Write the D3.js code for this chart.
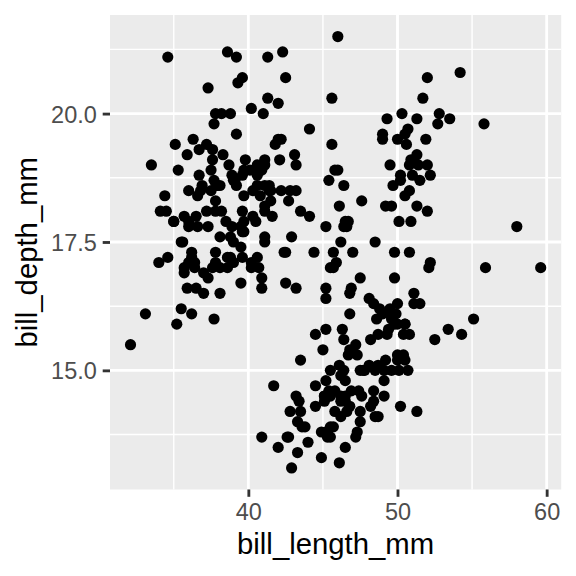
<!DOCTYPE html>
<html><head><meta charset="utf-8">
<script src="https://cdn.jsdelivr.net/npm/d3@7"></script>
<style>body{margin:0;background:#fff}svg{display:block}</style>
</head><body>
<script>
// bill_length_mm, bill_depth_mm pairs
const adelie = [
[39.1,18.7],[39.5,17.4],[40.3,18],[36.7,19.3],[39.3,20.6],[38.9,17.8],[39.2,19.6],[34.1,18.1],[42,20.2],[37.8,17.1],
[37.8,17.3],[41.1,17.6],[38.6,21.2],[34.6,21.1],[36.6,17.8],[38.7,19],[42.5,20.7],[34.4,18.4],[46,21.5],[37.8,18.3],
[37.7,18.7],[35.9,19.2],[38.2,18.1],[38.8,17.2],[35.3,18.9],[40.6,18.6],[40.5,17.9],[37.9,18.6],[40.5,18.9],[39.5,16.7],
[37.2,18.1],[39.5,17.8],[40.9,18.9],[36.4,17],[39.2,21.1],[38.8,20],[42.2,18.5],[37.6,19.3],[39.8,19.1],[36.5,18],
[40.8,18.4],[36,18.5],[44.1,19.7],[37,16.9],[39.6,18.8],[41.1,19],[37.5,18.9],[36,17.9],[42.3,21.2],[39.6,17.7],
[40.1,18.9],[35,17.9],[42,19.5],[34.5,18.1],[41.4,18.6],[39,17.5],[40.6,18.8],[36.5,16.6],[37.6,19.1],[35.7,16.9],
[41.3,21.1],[37.6,17],[41.1,18.2],[36.4,17.1],[41.6,18],[35.5,16.2],[41.1,19.1],[35.9,16.6],[41.8,19.4],[33.5,19],
[39.7,18.4],[39.6,17.2],[45.8,18.9],[35.5,17.5],[42.8,18.5],[40.9,16.8],[37.2,19.4],[36.2,16.1],[42.1,19.1],[34.6,17.2],
[42.9,17.6],[36.7,18.8],[35.1,19.4],[37.3,17.8],[41.3,20.3],[36.3,19.5],[36.9,18.6],[38.3,19.2],[38.9,18.8],[35.7,18],
[41.1,18.1],[34,17.1],[39.6,18.1],[36.2,17.3],[40.8,18.9],[38.1,18.6],[40.3,18.5],[33.1,16.1],[43.2,18.5],[35,17.9],
[41,20],[37.7,16],[37.8,20],[37.9,18.6],[39.7,18.9],[38.6,17.2],[38.2,20],[38.1,17],[43.2,19],[38.1,16.5],
[45.6,20.3],[39.7,17.7],[42.2,19.5],[39.6,20.7],[42.7,18.3],[38.6,17],[37.3,20.5],[35.7,17],[41.1,18.6],[36.2,17.2],
[37.7,19.8],[40.2,17],[41.4,18.5],[35.2,15.9],[40.6,19],[38.8,17.6],[41.5,18.3],[39,17.1],[44.1,18],[38.5,17.9],
[43.1,19.2],[36.8,18.5],[37.5,18.5],[38.1,17.6],[41.1,17.5],[35.6,17.5],[40.2,20.1],[37,16.5],[39.7,17.9],[40.2,17.1],
[40.6,17.2],[32.1,15.5],[40.7,17],[37.3,16.8],[39,18.7],[39.2,18.6],[36.6,18.4],[36,17.8],[37.8,18.1],[36,17.1],
[41.5,18.5]
];
const gentoo = [
[46.1,13.2],[50,16.3],[48.7,14.1],[50,15.2],[47.6,14.5],[46.5,13.5],[45.4,14.6],[46.7,15.3],[43.3,13.4],[46.8,15.4],
[40.9,13.7],[49,16.1],[45.5,13.7],[48.4,14.6],[45.8,14.6],[49.3,15.7],[42,13.5],[49.2,15.2],[46.2,14.5],[48.7,15.1],
[50.2,14.3],[45.1,14.5],[46.5,14.5],[46.3,15.8],[42.9,13.1],[46.1,15.1],[44.5,14.3],[47.8,15],[48.2,14.3],[50,15.3],
[47.3,15.3],[42.8,14.2],[45.1,14.5],[59.6,17],[49.1,14.8],[48.4,16.3],[42.6,13.7],[44.4,17.3],[44,13.6],[48.7,15.7],
[42.7,13.7],[49.6,16],[45.3,13.7],[49.6,15],[50.5,15.9],[43.6,13.9],[45.5,13.9],[50.5,15.9],[44.9,13.3],[45.2,15.8],
[46.6,14.2],[48.5,14.1],[45.1,14.4],[50.1,15],[46.5,14.4],[45,15.4],[43.8,13.9],[45.5,15],[43.2,14.5],[50.4,15.3],
[45.3,13.8],[46.2,14.9],[45.7,13.9],[54.3,15.7],[45.8,14.2],[49.8,16.8],[46.2,14.4],[49.5,16.2],[43.5,14.2],[50.7,15],
[47.7,15],[46.4,15.6],[48.2,15.6],[46.5,14.8],[46.4,15],[48.6,16],[47.5,14.2],[51.1,16.3],[45.2,13.8],[45.2,16.4],
[49.1,14.5],[52.5,15.6],[47.4,14.6],[50,15.9],[44.9,13.8],[50.8,17.3],[43.4,14.4],[51.3,14.2],[47.5,14],[52.1,17],
[47.5,15],[52.2,17.1],[45.5,14.5],[49.5,16.1],[44.5,14.7],[50.8,15.7],[49.4,15.8],[46.9,14.6],[48.4,14.4],[51.1,16.5],
[48.5,15],[55.9,17],[47.2,15.5],[49.1,15],[47.3,13.8],[46.8,16.1],[41.7,14.7],[53.4,15.8],[43.3,14],[48.1,15.1],
[50.5,15.2],[49.8,15.9],[43.5,15.2],[51.5,16.3],[46.2,14.1],[55.1,16],[44.5,15.7],[48.8,16.2],[47.2,13.7],[46.8,14.3],
[50.4,15.7],[45.2,14.8],[49.9,16.1]
];
const chinstrap = [
[46.5,17.9],[50,19.5],[51.3,19.2],[45.4,18.7],[52.7,19.8],[45.2,17.8],[46.1,18.2],[51.3,18.2],[46,18.9],[51.3,19.9],
[46.6,17.8],[51.7,20.3],[47,17.3],[52,18.1],[45.9,17.1],[50.5,19.6],[50.3,20],[58,17.8],[46.4,18.6],[49.2,18.2],
[42.4,17.3],[48.5,17.5],[43.2,16.6],[50.6,19.4],[46.7,17.9],[52,19],[50.5,18.4],[49.5,19],[46.4,17.8],[52.8,20],
[40.9,16.6],[54.2,20.8],[42.5,16.7],[51,18.8],[49.7,18.6],[47.5,16.8],[47.6,18.3],[52,20.7],[46.9,16.6],[53.5,19.9],
[49,19.5],[46.2,17.5],[50.9,19.1],[45.5,17],[50.9,17.9],[50.8,18.5],[50.1,17.9],[49,19.6],[51.5,18.7],[49.8,17.3],
[48.1,16.4],[51.4,19],[45.7,17.3],[50.7,19.7],[42.5,17.3],[52.2,18.8],[45.2,16.6],[49.3,19.9],[50.2,18.8],[45.6,19.4],
[51.9,19.5],[46.8,16.5],[45.7,17],[55.8,19.8],[43.5,18.1],[49.6,18.2],[50.8,19],[50.2,18.7]
];
const xTicks = [40, 50, 60];
const yTicks = [15, 17.5, 20];
const xMinor = [35, 45, 55];
const yMinor = [13.75, 16.25, 18.75, 21.25];
const xTitle = "bill_length_mm";
const yTitle = "bill_depth_mm";

const data = adelie.concat(gentoo, chinstrap);
const W = 576, H = 576;
const L = 110, R = 561.2, T = 15, B = 489.5;

const xs = data.map(d => d[0]), ys = data.map(d => d[1]);
const [x0, x1] = d3.extent(xs), [y0, y1] = d3.extent(ys);
const xp = (x1 - x0) * 0.05, yp = (y1 - y0) * 0.05;
const x = d3.scaleLinear().domain([x0 - xp, x1 + xp]).range([L, R]);
const y = d3.scaleLinear().domain([y0 - yp, y1 + yp]).range([B, T]);

const svg = d3.select("body").append("svg").attr("width", W).attr("height", H);
svg.append("rect").attr("x", L).attr("y", T).attr("width", R - L).attr("height", B - T).attr("fill", "#EBEBEB");

const grid = svg.append("g");
grid.selectAll(".xm").data(xMinor).join("line")
  .attr("x1", d => x(d)).attr("x2", d => x(d)).attr("y1", T).attr("y2", B)
  .attr("stroke", "#fff").attr("stroke-width", 1.42);
grid.selectAll(".ym").data(yMinor).join("line")
  .attr("y1", d => y(d)).attr("y2", d => y(d)).attr("x1", L).attr("x2", R)
  .attr("stroke", "#fff").attr("stroke-width", 1.42);
grid.selectAll(".xM").data(xTicks).join("line")
  .attr("x1", d => x(d)).attr("x2", d => x(d)).attr("y1", T).attr("y2", B)
  .attr("stroke", "#fff").attr("stroke-width", 2.84);
grid.selectAll(".yM").data(yTicks).join("line")
  .attr("y1", d => y(d)).attr("y2", d => y(d)).attr("x1", L).attr("x2", R)
  .attr("stroke", "#fff").attr("stroke-width", 2.84);

svg.append("g").selectAll("circle").data(data).join("circle")
  .attr("cx", d => x(d[0])).attr("cy", d => y(d[1])).attr("r", 5.6).attr("fill", "#000");

const font = "'Liberation Sans', Arial, Helvetica, sans-serif";
// x axis
const xa = svg.append("g").attr("transform", `translate(0,${B})`)
  .call(d3.axisBottom(x).tickValues(xTicks).tickSize(7.3).tickPadding(5.9).tickFormat(d3.format("d")));
xa.select(".domain").remove();
xa.selectAll(".tick line").attr("stroke", "#333333").attr("stroke-width", 2.84);
xa.selectAll(".tick text").attr("fill", "#4D4D4D").style("font-family", font).style("font-size", "23.5px")
  .attr("dy", null).attr("y", 30);
// y axis
const ya = svg.append("g").attr("transform", `translate(${L},0)`)
  .call(d3.axisLeft(y).tickValues(yTicks).tickSize(7.3).tickPadding(5.9).tickFormat(d3.format(".1f")));
ya.select(".domain").remove();
ya.selectAll(".tick line").attr("stroke", "#333333").attr("stroke-width", 2.84);
ya.selectAll(".tick text").attr("fill", "#4D4D4D").style("font-family", font).style("font-size", "23.5px")
  .attr("dy", "0.36em");

svg.append("text").attr("x", (L + R) / 2).attr("y", 554).attr("text-anchor", "middle")
  .style("font-family", font).style("font-size", "29.3px").attr("fill", "#000").text(xTitle);
svg.append("text").attr("transform", `translate(37.3,${(T + B) / 2}) rotate(-90)`).attr("text-anchor", "middle")
  .style("font-family", font).style("font-size", "29.3px").attr("fill", "#000").text(yTitle);
</script>
</body></html>
